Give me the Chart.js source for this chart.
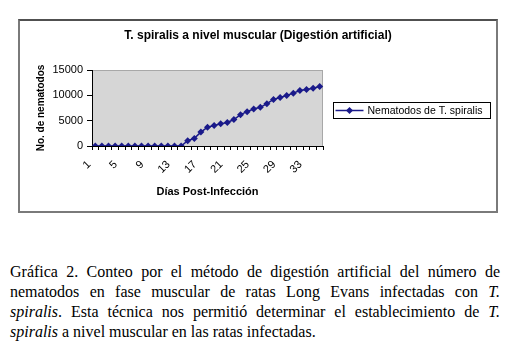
<!DOCTYPE html>
<html>
<head>
<meta charset="utf-8">
<script src="https://cdn.jsdelivr.net/npm/chart.js@4.4.1/dist/chart.umd.min.js"></script>
<style>
  html, body { margin: 0; padding: 0; background: #fff; }
  body { width: 521px; height: 352px; position: relative; overflow: hidden; }
  #frame { position: absolute; left: 18px; top: 19px; width: 476px; height: 190px;
           border: 2px solid #7a7a7a; border-top-color: #505050; }
  #chart { display: block; }
  .cap { position: absolute; left: 10px; top: 262px; width: 490px;
         font-family: "Liberation Serif", "Times New Roman", serif; font-size: 16px;
         line-height: 20px; color: #000; }
  .j { text-align: justify; text-align-last: justify; white-space: nowrap; }
</style>
</head>
<body>
<div id="frame"><canvas id="chart" width="476" height="190"></canvas></div>
<div class="cap">
  <div class="j">Gráfica 2. Conteo por el método de digestión artificial del número de</div>
  <div class="j">nematodos en fase muscular de ratas Long Evans infectadas con <i>T.</i></div>
  <div class="j"><i>spiralis</i>. Esta técnica nos permitió determinar el establecimiento de <i>T.</i></div>
  <div><i>spiralis</i> a nivel muscular en las ratas infectadas.</div>
</div>
<script>
// Days post-infection and nematode counts
const dias = ['1','2','3','4','5','6','7','8','9','10','11','12','13','14','15','16','17','18',
  '19','20','21','22','23','24','25','26','27','28','29','30','31','32','33','34','35'];
const nematodos = [0, 0, 0, 0, 0, 0, 0, 0, 0, 0, 0, 0, 0, 0,
  1050, 1500, 2740, 3720, 4040, 4370, 4630, 5220, 6190, 6780, 7300, 7630,
  8350, 9190, 9580, 9980, 10430, 10950, 11150, 11410, 11740];
const yTicks = [0, 5000, 10000, 15000];
const titulo = 'T. spiralis a nivel muscular (Digestión artificial)';

const FONT = '"Liberation Sans", Arial, sans-serif';
const NAVY = '#1a1a8a';

// gray plot area like the Excel original
const plotBg = {
  id: 'plotBg',
  beforeDraw(chart){
    const a = chart.chartArea, ctx = chart.ctx;
    ctx.save();
    ctx.fillStyle = '#d6d6d6';
    ctx.fillRect(a.left, a.top, a.right - a.left, a.bottom - a.top);
    ctx.strokeStyle = '#a8a8a8';
    ctx.lineWidth = 1;
    ctx.strokeRect(a.left + 0.5, a.top + 0.5, a.right - a.left - 1, a.bottom - a.top);
    ctx.restore();
  }
};

// chart title centred on the whole frame, plus the boxed legend
const extras = {
  id: 'extras',
  afterDraw(chart){
    const ctx = chart.ctx;
    const ds = chart.data.datasets[0];
    ctx.save();
    ctx.fillStyle = '#000';
    ctx.font = 'bold 12px ' + FONT;
    ctx.textAlign = 'center';
    ctx.textBaseline = 'middle';
    ctx.fillText(titulo, chart.width / 2, 15);

    const x = 313.5, y = 81.5, w = 157, h = 16;
    ctx.strokeStyle = '#000';
    ctx.lineWidth = 1;
    ctx.strokeRect(x, y, w, h);
    const cy = y + h / 2;
    ctx.strokeStyle = NAVY;
    ctx.lineWidth = 1.5;
    ctx.beginPath(); ctx.moveTo(x + 2, cy); ctx.lineTo(x + 30, cy); ctx.stroke();
    ctx.fillStyle = NAVY;
    ctx.beginPath();
    ctx.moveTo(x + 16, cy - 3.5); ctx.lineTo(x + 19.5, cy); ctx.lineTo(x + 16, cy + 3.5); ctx.lineTo(x + 12.5, cy);
    ctx.closePath(); ctx.fill();
    ctx.fillStyle = '#000';
    ctx.font = '10.5px ' + FONT;
    ctx.textAlign = 'left';
    ctx.fillText(ds.label, x + 34, cy + 0.5);
    ctx.restore();
  }
};

new Chart(document.getElementById('chart'), {
  type: 'line',
  data: {
    labels: dias,
    datasets: [{
      label: 'Nematodos de T. spiralis',
      data: nematodos,
      borderColor: NAVY,
      backgroundColor: NAVY,
      borderWidth: 1.5,
      pointStyle: 'rectRot',
      pointRadius: 3.5,
      pointBorderWidth: 0,
      tension: 0
    }]
  },
  options: {
    responsive: false,
    animation: false,
    layout: { padding: { left: 0, top: 49, right: 173, bottom: 0 } },
    plugins: {
      legend: { display: false },
      tooltip: { enabled: false },
      title: { display: false }
    },
    scales: {
      x: {
        offset: true,
        grid: { offset: true, drawOnChartArea: false, drawTicks: true, tickLength: 4, color: '#000' },
        border: { color: '#000', width: 1 },
        ticks: {
          autoSkip: false,
          minRotation: 45, maxRotation: 45,
          padding: 8,
          labelOffset: -6,
          color: '#000',
          font: { family: FONT, size: 11 },
          callback(v, i){ return i % 4 === 0 ? dias[i] : ''; }
        },
        title: {
          display: true, text: 'Días Post-Infección', color: '#000',
          font: { family: FONT, size: 11, weight: 'bold' },
          padding: { top: 0, bottom: 12.4 }
        },
        afterFit(scale){ scale.height = 65; }
      },
      y: {
        min: 0, max: 15000,
        afterBuildTicks(scale){ scale.ticks = yTicks.map(v => ({ value: v })); },
        grid: { drawOnChartArea: false, drawTicks: true, tickLength: 5, color: '#000' },
        border: { color: '#000', width: 1 },
        ticks: {
          padding: 4, color: '#000', font: { family: FONT, size: 11 },
          callback(v){ return String(v); }
        },
        title: {
          display: true, text: 'No. de nematodos', color: '#000',
          font: { family: FONT, size: 10, weight: 'bold' },
          padding: { top: 15, bottom: 0 }
        },
        afterFit(scale){ scale.width = 72; }
      }
    }
  },
  plugins: [plotBg, extras]
});
</script>
</body>
</html>
